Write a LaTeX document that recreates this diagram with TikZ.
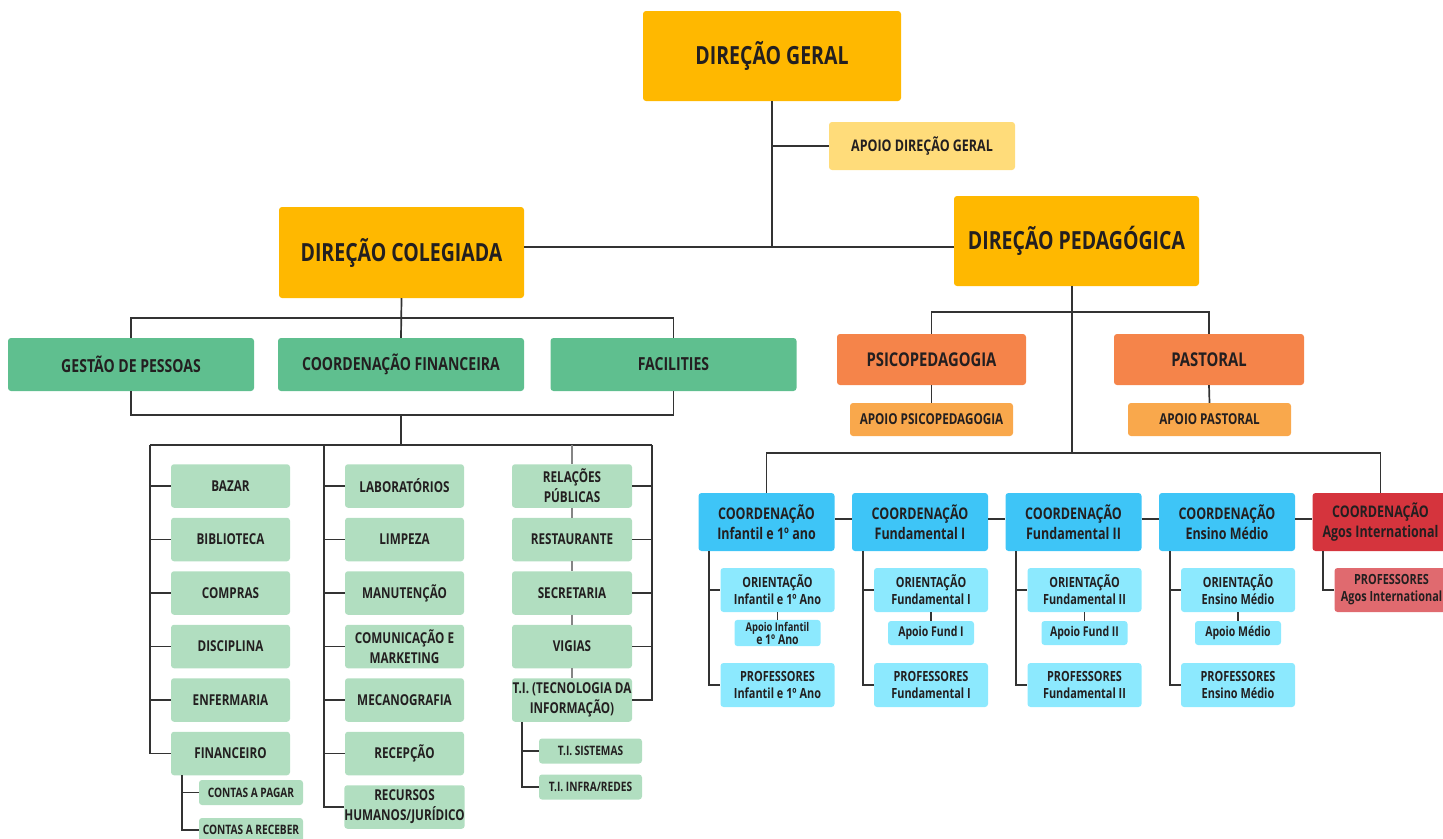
\documentclass[tikz,border=0pt]{standalone}
\usepackage{fontspec}
\setmainfont{Open Sans}[FakeStretch=0.78]
\definecolor{gold}{HTML}{FFB800}
\definecolor{paleyellow}{HTML}{FFDC7A}
\definecolor{leafgreen}{HTML}{5FBF8F}
\definecolor{palegreen}{HTML}{B1DEC0}
\definecolor{carrot}{HTML}{F5844A}
\definecolor{apricot}{HTML}{F9A84C}
\definecolor{sky}{HTML}{3EC5F7}
\definecolor{palesky}{HTML}{8CE9FE}
\definecolor{crimson}{HTML}{D5343D}
\definecolor{rose}{HTML}{E06A6F}
\definecolor{ink}{HTML}{231F20}
\definecolor{wire}{HTML}{333333}
\begin{document}
\begin{tikzpicture}[x=1pt, y=-1pt,
    box/.style={rectangle, rounded corners=3pt, inner sep=0pt, align=center, text=ink},
    chief/.style={box, fill=gold, minimum width=245pt, minimum height=90pt, font=\bfseries\fontsize{25}{28}\selectfont},
    aide/.style={box, fill=paleyellow, minimum width=186pt, minimum height=48pt, font=\bfseries\fontsize{16}{19}\selectfont},
    area/.style={box, fill=leafgreen, minimum width=246pt, minimum height=53pt, font=\bfseries\fontsize{18}{21}\selectfont},
    unit/.style={box, fill=palegreen, minimum width=119pt, minimum height=43.5pt, font=\bfseries\fontsize{15}{20}\selectfont},
    subunit/.style={box, fill=palegreen, minimum width=104pt, minimum height=25pt, font=\bfseries\fontsize{13}{15}\selectfont},
    care/.style={box, fill=carrot, minimum width=190pt, minimum height=51pt, font=\bfseries\fontsize{19}{22}\selectfont},
    careaide/.style={box, fill=apricot, minimum width=163pt, minimum height=33pt, font=\bfseries\fontsize{15}{17}\selectfont},
    coord/.style={box, fill=sky, minimum width=136pt, minimum height=58pt, font=\bfseries\fontsize{16}{20}\selectfont},
    team/.style={box, fill=palesky, minimum width=114pt, minimum height=44pt, font=\bfseries\fontsize{14}{17}\selectfont},
    helper/.style={box, fill=palesky, minimum width=86pt, minimum height=24pt, inner ysep=2pt, font=\bfseries\fontsize{13.5}{13}\selectfont},
    link/.style={draw=wire, line width=1.7pt}]
  \useasboundingbox (0,0) rectangle (1443,838);
  \clip (0,0) rectangle (1443,838);

  \node[chief, minimum width=258pt] (dg) at (772,56) {DIREÇÃO GERAL};
  \node[aide] (adg) at (922,146) {APOIO DIREÇÃO GERAL};
  \node[chief, minimum height=91pt] (dc) at (401.5,252.5) {DIREÇÃO COLEGIADA};
  \node[chief] (dp) at (1076.5,241) {DIREÇÃO PEDAGÓGICA};
  \coordinate (hub) at (772,247);
  \draw[link] (dg.south) -- (hub);
  \draw[link] (dg.south |- adg.west) -- (adg.west);
  \draw[link] (dc.east |- hub) -- (dp.west |- hub);

  \node[area] (gp) at (131,364.5) {GESTÃO DE PESSOAS};
  \node[area] (cf) at (401,364.5) {COORDENAÇÃO FINANCEIRA};
  \node[area] (fac) at (673.5,364.5) {FACILITIES};
  \coordinate (bus1) at (0,318);
  \coordinate (bus2) at (0,415);
  \coordinate (bus3) at (401,445);
  \draw[link] (dc.south) -- (cf.north);
  \draw[link] (gp.north) |- (fac.north |- bus1) -- (fac.north);
  \draw[link] (gp.south) |- (fac.south |- bus2) -- (fac.south);
  \draw[link] (cf.south |- bus2) -- (bus3);

  \foreach \t [count=\i] in {BAZAR,BIBLIOTECA,COMPRAS,DISCIPLINA,ENFERMARIA,FINANCEIRO}
    \node[unit] (a\i) at (230.5,{486+53.5*(\i-1)}) {\t};
  \foreach \t [count=\i] in {LABORATÓRIOS,LIMPEZA,MANUTENÇÃO,{COMUNICAÇÃO E\\MARKETING},MECANOGRAFIA,RECEPÇÃO,{RECURSOS\\HUMANOS/JURÍDICO}}
    \node[unit] (b\i) at (404.5,{486+53.5*(\i-1)}) {\t};
  \foreach \t [count=\i] in {{RELAÇÕES\\PÚBLICAS},RESTAURANTE,SECRETARIA,VIGIAS,{T.I. (TECNOLOGIA DA\\INFORMAÇÃO)}}
    \node[unit, minimum width=120pt] (c\i) at (572,{486+53.5*(\i-1)}) {\t};
  \coordinate (l1) at (150,445);
  \coordinate (l2) at (324,445);
  \coordinate (l3) at (652,445);
  \draw[link] (l1) -- (l3);
  \draw[link] (l1) |- (a6.west);
  \foreach \i in {1,...,5} \draw[link] (l1 |- a\i.west) -- (a\i.west);
  \draw[link] (l2) |- (b7.west);
  \foreach \i in {1,...,6} \draw[link] (l2 |- b\i.west) -- (b\i.west);
  \draw[link] (l3) |- (c5.east);
  \foreach \i in {1,...,4} \draw[link] (l3 |- c\i.east) -- (c\i.east);
  \draw[link, wire!60] (c1.north |- l3) -- (c1.north);
  \foreach \i [count=\j from 2] in {1,...,4} \draw[link, wire!60] (c\i.south) -- (c\j.north);

  \node[subunit, minimum width=103pt] (t1) at (590.5,751) {T.I. SISTEMAS};
  \node[subunit, minimum width=103pt] (t2) at (590.5,787) {T.I. INFRA/REDES};
  \coordinate (tx) at (522,0);
  \draw[link] (c5.south -| tx) |- (t2.west);
  \draw[link] (tx |- t1.west) -- (t1.west);
  \node[subunit] (f1) at (251,792.5) {CONTAS A PAGAR};
  \node[subunit, minimum height=24pt] (f2) at (251,830) {CONTAS A RECEBER};
  \coordinate (fx) at (182,0);
  \draw[link] (a6.south -| fx) |- (f2.west);
  \draw[link] (fx |- f1.west) -- (f1.west);

  \node[care, minimum width=189pt] (psi) at (931.5,359.5) {PSICOPEDAGOGIA};
  \node[care] (pas) at (1209,359.5) {PASTORAL};
  \node[careaide] (apsi) at (931.5,419.5) {APOIO PSICOPEDAGOGIA};
  \node[careaide] (apas) at (1209.5,419.5) {APOIO PASTORAL};
  \coordinate (bus4) at (1072,312);
  \coordinate (bus5) at (1072,453);
  \draw[link] (dp.south -| bus4) -- (bus5);
  \draw[link] (psi.north) |- (pas.north |- bus4) -- (pas.north);
  \draw[link] (psi.south) -- (apsi.north);
  \draw[link] (pas.south) -- (apas.north);

  \foreach \t [count=\i] in {Infantil e 1º ano,Fundamental I,Fundamental II,Ensino Médio}
    \node[coord] (k\i) at ({766.5+153.5*(\i-1)},522) {COORDENAÇÃO\\\t};
  \node[coord, fill=crimson] (k5) at (1380.5,522) {COORDENAÇÃO\\Agos International};
  \coordinate (row) at (0,519);
  \draw[link] (k1.north) |- (k5.north |- bus5) -- (k5.north);
  \foreach \i [count=\j from 2] in {1,...,4} \draw[link] (k\i.east |- row) -- (k\j.west |- row);

  \foreach \t/\a [count=\i] in {Infantil e 1º Ano/{\fontsize{12}{13}\selectfont Apoio Infantil\\e 1º Ano},Fundamental I/Apoio Fund I,Fundamental II/Apoio Fund II,Ensino Médio/Apoio Médio} {
    \node[team] (o\i) at ({777.5+153.5*(\i-1)},590) {ORIENTAÇÃO\\\t};
    \node[helper] (h\i) at ({777.5+153.5*(\i-1)},633) {\a};
    \node[team] (p\i) at ({777.5+153.5*(\i-1)},685) {PROFESSORES\\\t};
    \coordinate (v\i) at ([xshift=11pt]k\i.south west);
    \draw[link] (o\i.south) -- (h\i.north);
    \draw[link] (v\i) |- (p\i.west);
    \draw[link] (v\i |- o\i.west) -- (o\i.west);
  }
  \node[team, fill=rose] (p5) at (1391.5,590) {PROFESSORES\\Agos International};
  \coordinate (v5) at ([xshift=11pt]k5.south west);
  \draw[link] (v5) |- (p5.west);
\end{tikzpicture}
\end{document}
